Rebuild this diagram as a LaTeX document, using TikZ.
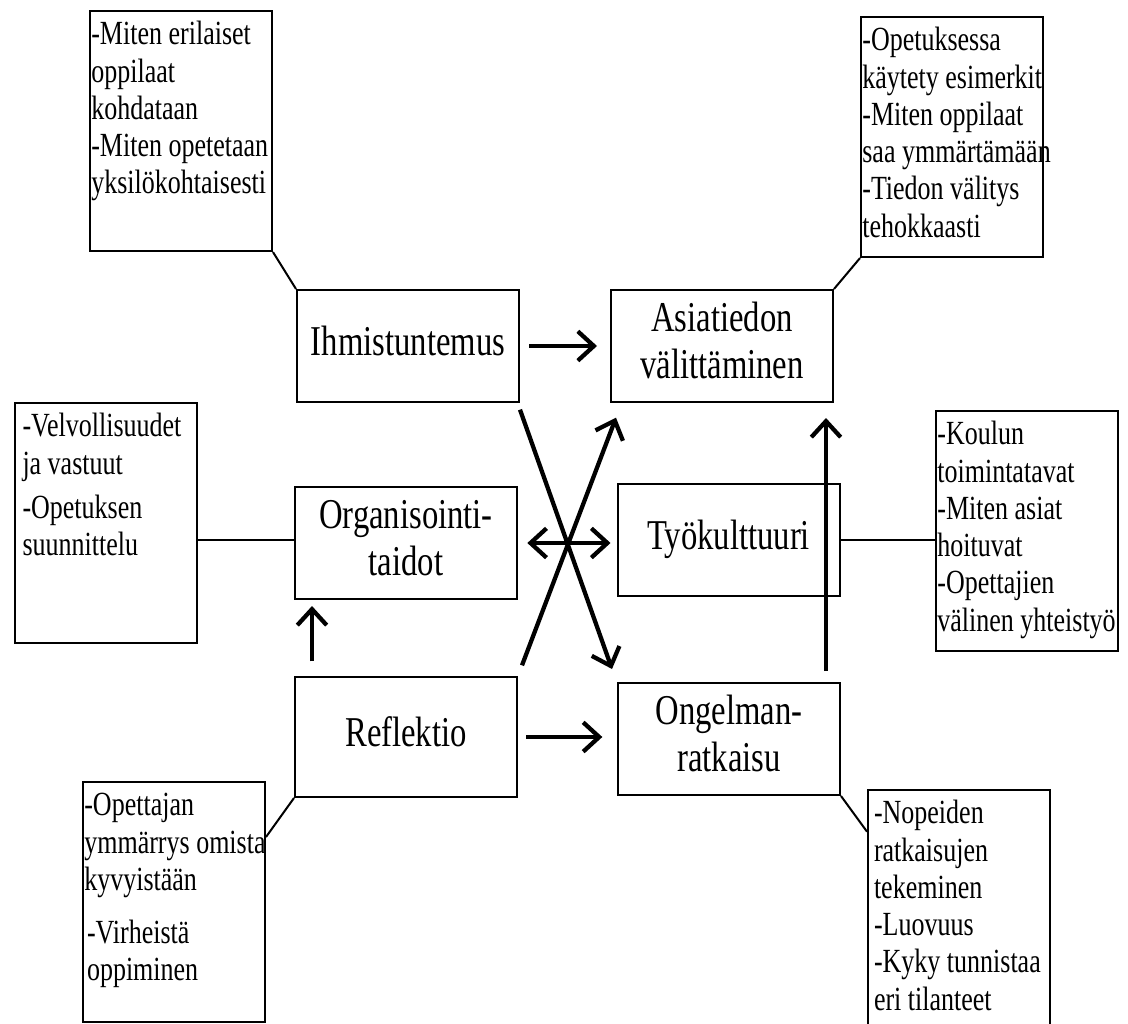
\documentclass[tikz,border=0pt]{standalone}
\usepackage{fontspec}
\setmainfont{Liberation Serif}
\usetikzlibrary{arrows.meta}
\newcommand{\boxtext}[1]{\scalebox{1}[1.3]{\begin{tabular}{@{}c@{}}#1\end{tabular}}}
\newcommand{\notetext}[2][1pt]{\scalebox{1}[1.3]{\parbox[t][138.5pt][t]{136.5pt}{\vspace*{4.5pt}\begin{tabular}[t]{@{\hspace{#1}}l@{}}#2\end{tabular}}}}

\begin{document}
\begin{tikzpicture}[x=.75pt,y=-.75pt,
  box/.style={draw,line width=1.5pt,minimum width=166.5pt,minimum height=84pt,inner sep=0pt,font=\fontsize{24.5}{27}\selectfont},
  note/.style={draw,line width=1.5pt,inner sep=0pt,anchor=north west,font=\fontsize{19.5}{21.5}\selectfont},
  link/.style={line width=1.5pt},
  arr/.style={line width=3.2pt},
  >={Straight Barb[length=12pt,width=22pt]}]
\useasboundingbox (0,0) rectangle (1128,1024);

\node[box] (ihmis) at (408,346) {\boxtext{Ihmistuntemus}};
\node[box] (asia) at (722,346) {\boxtext{Asiatiedon\\välittäminen}};
\node[box] (org) at (406,543) {\boxtext{Organisointi-\\taidot}};
\node[box] (tyo) at (728.5,540) {\boxtext{Työkulttuuri}};
\node[box,minimum height=90pt] (refl) at (406,737) {\boxtext{Reflektio}};
\node[box] (ongel) at (729,739) {\boxtext{Ongelman-\\ratkaisu}};

\node[note] (n1) at (89,10) {\notetext{-Miten erilaiset\\oppilaat\\kohdataan\\-Miten opetetaan\\yksilökohtaisesti}};
\node[note] (n2) at (860,16) {\notetext{-Opetuksessa\\käytety esimerkit\\-Miten oppilaat\\saa ymmärtämään\\-Tiedon välitys\\tehokkaasti}};
\node[note] (n3) at (13.5,402) {\notetext[6pt]{\rule{0pt}{14pt}-Velvollisuudet\\ja vastuut\\[4pt]-Opetuksen\\suunnittelu}};
\node[note] (n4) at (935,410) {\notetext{-Koulun\\toimintatavat\\-Miten asiat\\hoituvat\\-Opettajien\\välinen yhteistyö}};
\node[note] (n5) at (82,781) {\notetext{-Opettajan\\ymmärrys omista\\kyvyistään\\[9pt]\hspace{2pt}-Virheistä\\\hspace{2pt}oppiminen}};
\node[note] (n6) at (867,789) {\notetext[4.5pt]{\rule{0pt}{15pt}-Nopeiden\\ratkaisujen\\tekeminen\\-Luovuus\\-Kyky tunnistaa\\eri tilanteet}};

\draw[link] (n1.south east) -- (ihmis.north west);
\draw[link] (n2.south west) -- (asia.north east);
\draw[link] ([yshift=2pt]org.west) -- ([yshift=2pt]org.west -| n3.east);
\draw[link] (tyo.east) -- (tyo.east -| n4.west);
\draw[link] (refl.south west) -- ([yshift=-42pt]n5.north east);
\draw[link] (ongel.south east) -- ([yshift=-32pt]n6.north west);

\draw[arr,->,shorten <=7pt,shorten >=9.75pt] (ihmis) -- (asia);
\draw[arr,->,shorten <=6pt,shorten >=11pt] (refl.east) -- (refl.east -| ongel.west);
\draw[arr,<->,shorten <=7pt,shorten >=4.5pt] (org.east) -- (org.east -| tyo.west);
\draw[arr,->] ([yshift=-5pt]ihmis.south east) -- ([shift={(-3.75pt,9.75pt)}]ongel.north west);
\draw[arr,->] ([shift={(3pt,8pt)}]refl.north east) -- ([shift={(4.5pt,-11pt)}]asia.south west);
\draw[arr,->,shorten <=11pt,shorten >=4.5pt] ([xshift=13.5pt]refl.north west) -- ([xshift=13.5pt]refl.north west |- org.south);
\draw[arr,->,shorten <=8.25pt,shorten >=11.25pt] ([xshift=-11.25pt]ongel.north east) -- ([xshift=-11.25pt]ongel.north east |- asia.south);

\end{tikzpicture}
\end{document}
